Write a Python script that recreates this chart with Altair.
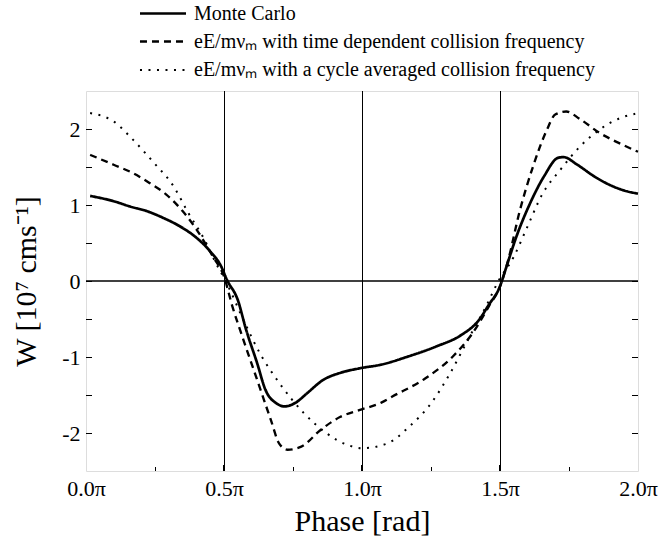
import altair as alt
import pandas as pd

# ---- data (phase in units of pi, W in 1e7 cm/s) ----
mc_phase = [0.015, 0.10, 0.16, 0.22, 0.28, 0.34, 0.40, 0.45, 0.49, 0.51, 0.55, 0.58,
            0.62, 0.65, 0.69, 0.72, 0.76, 0.80, 0.86, 0.92, 0.99, 1.07, 1.17, 1.27,
            1.36, 1.42, 1.46, 1.50, 1.52, 1.56, 1.61, 1.66, 1.71, 1.73, 1.78, 1.84,
            1.90, 1.96, 2.0]
mc_w = [1.12, 1.05, 0.98, 0.92, 0.83, 0.72, 0.57, 0.39, 0.19, 0.02, -0.25, -0.64,
        -1.08, -1.43, -1.61, -1.65, -1.60, -1.48, -1.30, -1.21, -1.15, -1.10, -0.99, -0.86,
        -0.71, -0.53, -0.31, -0.07, 0.15, 0.59, 1.03, 1.38, 1.62, 1.63, 1.53, 1.38,
        1.26, 1.18, 1.15]

td_phase = [0.015, 0.10, 0.17, 0.23, 0.29, 0.35, 0.40, 0.46, 0.50, 0.53, 0.57, 0.62,
            0.67, 0.70, 0.73, 0.78, 0.85, 0.92, 0.99, 1.07, 1.11, 1.23, 1.33, 1.40,
            1.46, 1.50, 1.53, 1.57, 1.62, 1.67, 1.70, 1.74, 1.79, 1.86, 1.94, 2.0]
td_w = [1.66, 1.53, 1.42, 1.29, 1.14, 0.92, 0.68, 0.32, 0.06, -0.33, -0.77, -1.30,
        -1.83, -2.14, -2.22, -2.18, -1.96, -1.79, -1.70, -1.60, -1.52, -1.28, -0.99, -0.69,
        -0.33, -0.07, 0.28, 0.90, 1.51, 1.99, 2.19, 2.23, 2.13, 1.95, 1.80, 1.70]

ca_phase = [0.015, 0.10, 0.17, 0.24, 0.32, 0.37, 0.43, 0.47, 0.51, 0.57, 0.63, 0.70,
            0.79, 0.87, 0.95, 1.00, 1.09, 1.17, 1.25, 1.32, 1.39, 1.45, 1.49, 1.55,
            1.60, 1.65, 1.72, 1.79, 1.86, 1.94, 1.99]
ca_w = [2.21, 2.10, 1.86, 1.58, 1.23, 0.90, 0.54, 0.24, -0.03, -0.51, -0.95, -1.34,
        -1.74, -2.00, -2.16, -2.20, -2.14, -1.92, -1.61, -1.21, -0.73, -0.33, -0.03, 0.32,
        0.72, 1.12, 1.47, 1.77, 1.99, 2.15, 2.20]

series_names = [
    "Monte Carlo",
    "eE/mν\u2098 with time dependent collision frequency",
    "eE/mν\u2098 with a cycle averaged collision frequency",
]

x_tick_labels = [0.0, 0.5, 1.0, 1.5, 2.0]
y_tick_labels = [-2, -1, 0, 1, 2]
y_minor_ticks = [-2.0, -1.5, -1.0, -0.5, 0.0, 0.5, 1.0, 1.5, 2.0]
x_minor_ticks = [0.25, 0.75, 1.25, 1.75]
x_major_ticks = [0.5, 1.0, 1.5]
v_ref_lines = [0.5, 1.0, 1.5]
h_ref_lines = [0.0]

# ---- build table ----
rows = []
for order, (name, ph, w) in enumerate(zip(series_names,
                                           [mc_phase, td_phase, ca_phase],
                                           [mc_w, td_w, ca_w])):
    for p, v in zip(ph, w):
        rows.append({"series": name, "phase": p, "W": v, "order": order})
df = pd.DataFrame(rows)

W_PX, H_PX = 552, 380
FONT = "Liberation Serif"

xscale = alt.Scale(domain=[0, 2], nice=False, zero=False)
yscale = alt.Scale(domain=[-2.5, 2.5], nice=False, zero=False)

lines = alt.Chart(df).mark_line(color="black", interpolate="monotone").encode(
    x=alt.X("phase:Q", scale=xscale,
            axis=alt.Axis(values=x_tick_labels, ticks=False, tickSize=0, domain=False, grid=False,
                          labelExpr="format(datum.value, '.1f') + 'π'",
                          labelFont=FONT, labelFontSize=22, labelColor="black",
                          labelPadding=7, labelFlush=False,
                          title="Phase [rad]", titleFont=FONT, titleFontSize=30,
                          titleFontWeight="normal", titleColor="black", titlePadding=7)),
    y=alt.Y("W:Q", scale=yscale,
            axis=alt.Axis(values=y_tick_labels, ticks=False, tickSize=0, domain=False, grid=False,
                          labelExpr="'' + datum.value",
                          labelFont=FONT, labelFontSize=22, labelColor="black",
                          labelPadding=6, labelFlush=False,
                          title="W [10⁷ cms⁻¹]", titleFont=FONT, titleFontSize=30,
                          titleFontWeight="normal", titleColor="black", titlePadding=20)),
    strokeDash=alt.StrokeDash("series:N",
                              scale=alt.Scale(domain=series_names,
                                              range=[[1, 0], [7, 5], [2, 6.5]]),
                              legend=alt.Legend(title=None, orient="none",
                                                legendX=66, legendY=-88.5,
                                                symbolType="M-2.5,0H2.5",
                                                symbolSize=339,
                                                symbolStrokeColor="black",
                                                symbolStrokeWidth=2,
                                                labelFont=FONT, labelFontSize=20,
                                                labelColor="black", labelOffset=20,
                                                rowPadding=7.5, labelLimit=600)),
    strokeWidth=alt.StrokeWidth("series:N",
                                scale=alt.Scale(domain=series_names, range=[2.7, 2.0, 2.2]),
                                legend=None),
    order="phase:Q",
)

vref = alt.Chart(pd.DataFrame({"x": v_ref_lines})).mark_rule(
    color="black", strokeWidth=1, xOffset=0.5).encode(x=alt.X("x:Q", scale=xscale))
href = alt.Chart(pd.DataFrame({"y": h_ref_lines})).mark_rule(
    color="black", strokeWidth=1.5).encode(y=alt.Y("y:Q", scale=yscale))

yt = pd.DataFrame({"y": y_minor_ticks})
left_ticks = alt.Chart(yt).mark_rule(color="black", strokeWidth=1, yOffset=0.5).encode(
    y=alt.Y("y:Q", scale=yscale), x=alt.value(0), x2=alt.value(6))
right_ticks = alt.Chart(yt).mark_rule(color="black", strokeWidth=1, yOffset=0.5).encode(
    y=alt.Y("y:Q", scale=yscale), x=alt.value(W_PX - 6), x2=alt.value(W_PX))
xt = pd.DataFrame({"x": x_minor_ticks})
bottom_minor = alt.Chart(xt).mark_rule(color="black", strokeWidth=1, xOffset=0.5).encode(
    x=alt.X("x:Q", scale=xscale), y=alt.value(H_PX - 4), y2=alt.value(H_PX))
xtm = pd.DataFrame({"x": x_major_ticks})
bottom_major = alt.Chart(xtm).mark_rule(color="black", strokeWidth=2).encode(
    x=alt.X("x:Q", scale=xscale), y=alt.value(H_PX - 6), y2=alt.value(H_PX))

chart = alt.layer(vref, href, left_ticks, right_ticks, bottom_minor, bottom_major, lines).properties(
    width=W_PX, height=H_PX,
    autosize=alt.AutoSizeParams(type="none"),
    padding={"left": 86, "top": 91, "right": 23, "bottom": 70},
).configure_view(stroke="black", strokeWidth=2).configure(background="white")

chart.save("out.html", embed_options={"renderer": "svg", "actions": False})
